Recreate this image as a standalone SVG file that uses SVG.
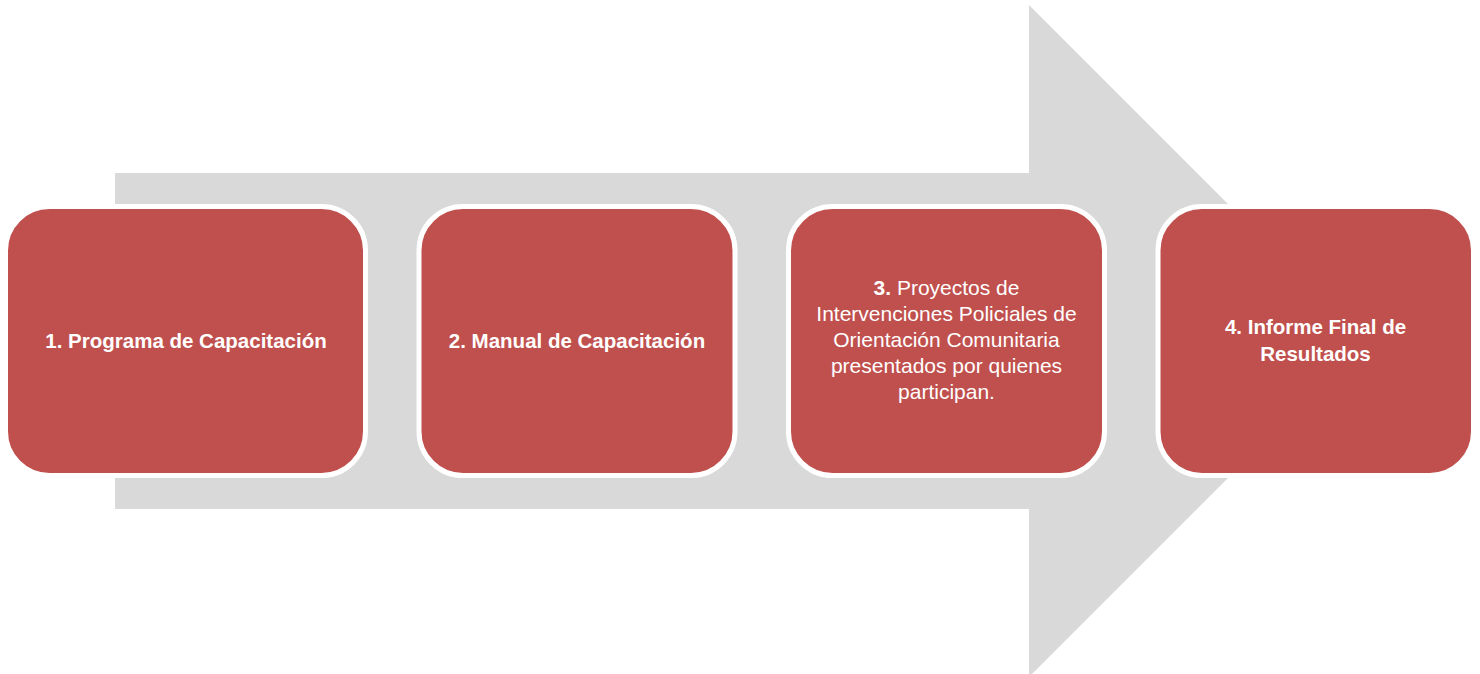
<svg xmlns="http://www.w3.org/2000/svg" width="1480" height="674" viewBox="0 0 1480 674">
<style>
.box{fill:#C0504D;stroke:#FFFFFF;stroke-width:5}
.t{font-family:"Liberation Sans",Arial,sans-serif;font-size:21px;fill:#FFFFFF;text-anchor:middle}
.b{font-weight:bold;font-size:20.5px}
</style>
<rect width="1480" height="674" fill="#FFFFFF"/>
<g id="connectors">
<polygon id="arrow" points="115,173 1029,173 1029,5 1365,341 1029,677 1029,509 115,509" fill="#D9D9D9"/>
</g>
<g id="node1">
<rect class="box" x="5.5" y="206.5" width="360" height="269" rx="44" ry="44"/>
<text class="t b" x="186" y="348">1. Programa de Capacitación</text>
</g>
<g id="node2">
<rect class="box" x="419" y="206.5" width="316" height="269" rx="44" ry="44"/>
<text class="t b" x="577" y="348">2. Manual de Capacitación</text>
</g>
<g id="node3">
<rect class="box" x="788.5" y="206.5" width="316" height="269" rx="44" ry="44"/>
<text class="t" x="946.5" y="295"><tspan style="font-weight:bold">3.</tspan> Proyectos de</text>
<text class="t" x="946.5" y="321">Intervenciones Policiales de</text>
<text class="t" x="946.5" y="347">Orientación Comunitaria</text>
<text class="t" x="946.5" y="373">presentados por quienes</text>
<text class="t" x="946.5" y="399">participan.</text>
</g>
<g id="node4">
<rect class="box" x="1158" y="206.5" width="315.5" height="269" rx="44" ry="44"/>
<text class="t b" x="1315.5" y="334">4. Informe Final de</text>
<text class="t b" x="1315.5" y="361">Resultados</text>
</g>
</svg>
